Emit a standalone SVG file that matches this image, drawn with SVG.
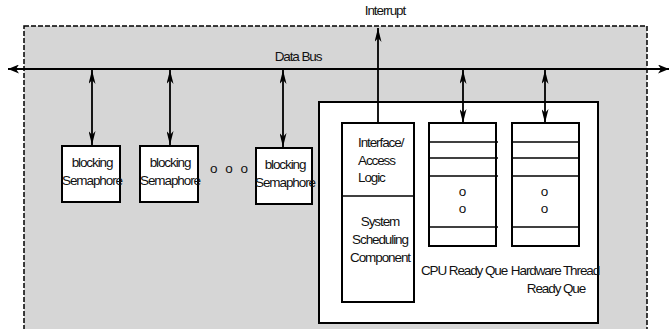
<svg xmlns="http://www.w3.org/2000/svg" width="671" height="329" viewBox="0 0 671 329">
  <style>
    .t { font-family: "Liberation Sans", Arial, sans-serif; font-size: 13.5px; letter-spacing: -1.1px; fill: #111; }
    .m { text-anchor: middle; }
    .box { fill: #fff; stroke: #000; stroke-width: 2; }
    .ln { stroke: #000; stroke-width: 1.8; fill: none; }
    .sl { stroke: #000; stroke-width: 1.5; }
  </style>
  <defs>
    <marker id="spike" viewBox="0 0 14 7" refX="14" refY="3.5" markerWidth="14" markerHeight="7" markerUnits="userSpaceOnUse" orient="auto-start-reverse">
      <path d="M0,0 L14,3.5 L0,7 L4,3.5 z" fill="#000"/>
    </marker>
    <marker id="bus" viewBox="0 0 11 9" refX="11" refY="4.5" markerWidth="11" markerHeight="9" markerUnits="userSpaceOnUse" orient="auto-start-reverse">
      <path d="M0,0 L11,4.5 L0,9 L3,4.5 z" fill="#000"/>
    </marker>
  </defs>

  <!-- system boundary -->
  <rect x="24" y="26" width="623" height="320" fill="#d6d6d6" stroke="#000" stroke-width="1.5" stroke-dasharray="5 2"/>

  <text class="t m" x="385" y="15">Interrupt</text>
  <text class="t m" x="298" y="61">Data Bus</text>

  <!-- blocking semaphores -->
  <g id="sem1">
    <rect class="box" x="62" y="146" width="58" height="56"/>
    <text class="t m" x="92" y="167">blocking</text>
    <text class="t m" x="92" y="185">Semaphore</text>
  </g>
  <g id="sem2">
    <rect class="box" x="140" y="146" width="58" height="56"/>
    <text class="t m" x="170" y="167">blocking</text>
    <text class="t m" x="170" y="185">Semaphore</text>
  </g>
  <text class="t" x="210" y="173" style="letter-spacing:2px">o o o</text>
  <g id="sem3">
    <rect class="box" x="256" y="148" width="56" height="56"/>
    <text class="t m" x="285" y="169">blocking</text>
    <text class="t m" x="285" y="187">Semaphore</text>
  </g>

  <!-- scheduler unit -->
  <g id="scheduler">
    <rect class="box" x="319" y="102" width="279" height="221"/>
  </g>

  <g id="interface">
    <rect class="box" x="342" y="123" width="72" height="179"/>
    <line class="sl" x1="342" y1="196" x2="414" y2="196"/>
    <text class="t" x="358" y="147">Interface/</text>
    <text class="t" x="358" y="165">Access</text>
    <text class="t" x="358" y="182">Logic</text>
    <text class="t m" x="380" y="226">System</text>
    <text class="t m" x="380" y="244">Scheduling</text>
    <text class="t m" x="380" y="262">Component</text>
  </g>

  <g id="cpu-queue">
    <rect class="box" x="429" y="123" width="67" height="123"/>
    <line class="sl" x1="429" y1="142" x2="498" y2="142"/>
    <line class="sl" x1="429" y1="158" x2="498" y2="158"/>
    <line class="sl" x1="429" y1="176" x2="498" y2="176"/>
    <line class="sl" x1="429" y1="227" x2="498" y2="227"/>
    <text class="t m" x="462" y="196">o</text>
    <text class="t m" x="462" y="213">o</text>
    <text class="t m" x="464" y="275">CPU Ready Que</text>
  </g>

  <g id="hw-queue">
    <rect class="box" x="512" y="123" width="67" height="123"/>
    <line class="sl" x1="512" y1="142" x2="579" y2="142"/>
    <line class="sl" x1="512" y1="158" x2="579" y2="158"/>
    <line class="sl" x1="512" y1="176" x2="579" y2="176"/>
    <line class="sl" x1="512" y1="227" x2="579" y2="227"/>
    <text class="t m" x="544" y="196">o</text>
    <text class="t m" x="544" y="213">o</text>
    <text class="t m" x="555" y="275">Hardware Thread</text>
    <text class="t m" x="556" y="293">Ready Que</text>
  </g>

  <!-- connectors, drawn last so they sit over the boxes -->
  <g id="connectors">
    <line class="ln" x1="8" y1="69" x2="669" y2="69" marker-start="url(#bus)" marker-end="url(#bus)"/>
    <line class="ln" x1="92" y1="70" x2="92" y2="145" marker-start="url(#spike)" marker-end="url(#spike)"/>
    <line class="ln" x1="170" y1="70" x2="170" y2="145" marker-start="url(#spike)" marker-end="url(#spike)"/>
    <line class="ln" x1="283" y1="70" x2="283" y2="147" marker-start="url(#spike)" marker-end="url(#spike)"/>
    <line class="ln" x1="463" y1="70" x2="463" y2="123" marker-start="url(#spike)" marker-end="url(#spike)"/>
    <line class="ln" x1="545" y1="70" x2="545" y2="123" marker-start="url(#spike)" marker-end="url(#spike)"/>
    <line class="ln" x1="378" y1="123" x2="378" y2="28" marker-end="url(#spike)"/>
  </g>
</svg>
